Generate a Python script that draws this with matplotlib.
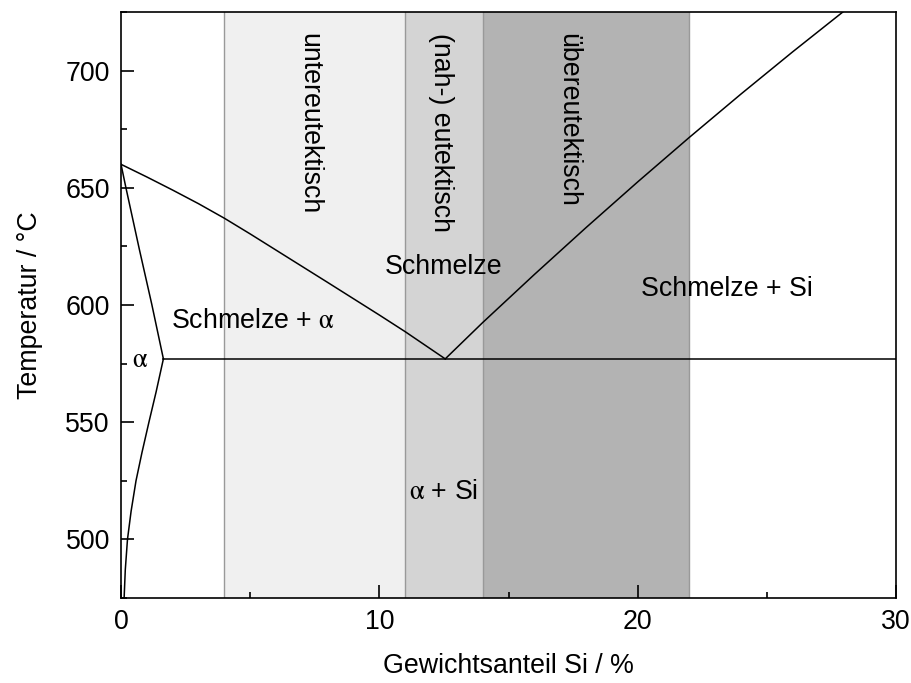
import matplotlib
matplotlib.use("Agg")
import matplotlib.pyplot as plt
from matplotlib.ticker import MultipleLocator

plt.rcParams['font.family'] = ['Liberation Sans', 'DejaVu Sans']
plt.rcParams['mathtext.fontset'] = 'stix'

# Al-Si Zustandsdiagramm (Ausschnitt)
liq_hypo_x = [0.0, 1.0, 2.0, 3.0, 4.0, 5.0, 6.0, 8.0, 10.0, 11.0, 12.55]
liq_hypo_T = [660.0, 654.6, 649.0, 643.2, 637.0, 630.3, 623.4, 609.6, 595.7, 588.6, 577.0]

liq_hyper_x = [12.55, 14.0, 16.0, 18.0, 20.0, 22.0, 24.0, 26.0, 28.0, 28.5]
liq_hyper_T = [577.0, 592.5, 613.0, 633.0, 652.5, 671.5, 690.0, 708.0, 725.5, 730.0]

solidus_x = [0.0, 0.19, 0.71, 1.19, 1.64]
solidus_T = [660.0, 650.0, 623.7, 600.3, 577.0]

solvus_x = [1.64, 1.36, 1.08, 0.81, 0.58, 0.39, 0.25, 0.165, 0.12, 0.11]
solvus_T = [577.0, 563.0, 550.0, 537.0, 525.0, 512.0, 500.0, 487.0, 475.0, 470.0]

eutektikum_T = 577.0
eutektikum_x = [1.64, 30.0]

# Legierungsbereiche
bereich_grenzen = [4.0, 11.0, 14.0, 22.0]
bereich_farben = ['#f0f0f0', '#d4d4d4', '#b3b3b3']
bereich_namen = ['untereutektisch', '(nah-) eutektisch', 'übereutektisch']
bereich_text_x = [7.3, 12.4, 17.3]

fs = 19.3
alpha = r'$\mathrm{\alpha}$'

fig = plt.figure(figsize=(9.12, 6.83), dpi=100)
ax = fig.add_axes([0.1327, 0.1245, 0.8498, 0.858])

for i in range(3):
    ax.axvspan(bereich_grenzen[i], bereich_grenzen[i + 1],
               color=bereich_farben[i], lw=0, zorder=0)
    ax.text(bereich_text_x[i], 716, bereich_namen[i], rotation=-90,
            ha='center', va='top', fontsize=fs, zorder=3)
for g in bereich_grenzen:
    ax.axvline(g, color='#999999', lw=1.0, zorder=1)

lk = dict(color='black', lw=1.1, zorder=2)
ax.plot(liq_hypo_x, liq_hypo_T, **lk)
ax.plot(liq_hyper_x, liq_hyper_T, **lk)
ax.plot(solidus_x, solidus_T, **lk)
ax.plot(solvus_x, solvus_T, **lk)
ax.plot(eutektikum_x, [eutektikum_T, eutektikum_T], **lk)

ax.text(12.5, 616, 'Schmelze', ha='center', va='center', fontsize=fs)
ax.text(1.95, 593, 'Schmelze + ' + alpha, ha='left', va='center', fontsize=fs)
ax.text(23.45, 607, 'Schmelze + Si', ha='center', va='center', fontsize=fs)
ax.text(0.75, 576.5, alpha, ha='center', va='center', fontsize=fs)
ax.text(12.5, 520, alpha + ' + Si', ha='center', va='center', fontsize=fs)

ax.set_xlim(0, 30)
ax.set_ylim(475, 725)
ax.xaxis.set_major_locator(MultipleLocator(10))
ax.xaxis.set_minor_locator(MultipleLocator(5))
ax.yaxis.set_major_locator(MultipleLocator(50))
ax.yaxis.set_minor_locator(MultipleLocator(25))
ax.tick_params(which='both', direction='in', top=False, right=False,
               labelsize=fs, width=1.2)
ax.tick_params(which='major', length=9.5, pad=8)
ax.tick_params(which='minor', length=4.5)
for s in ax.spines.values():
    s.set_linewidth(1.2)

ax.set_xlabel('Gewichtsanteil Si / %', fontsize=fs, labelpad=13)
ax.set_ylabel('Temperatur / °C', fontsize=fs, labelpad=16)

fig.savefig('out.png', dpi=100)
